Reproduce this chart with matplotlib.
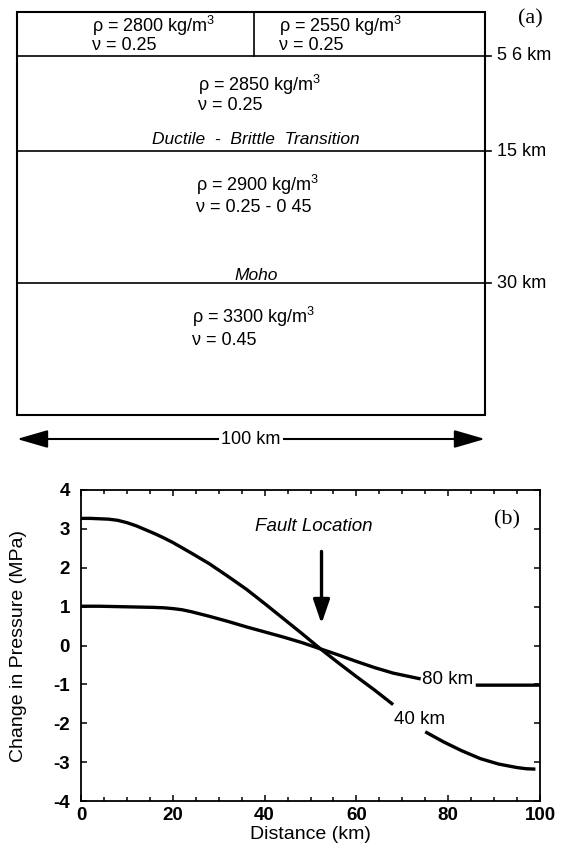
import numpy as np
import matplotlib
matplotlib.use("Agg")
import matplotlib.pyplot as plt
from matplotlib.patches import Rectangle

plt.rcParams['font.family'] = ['Liberation Sans', 'DejaVu Sans']
plt.rcParams['mathtext.fontset'] = 'custom'
plt.rcParams['mathtext.rm'] = 'Liberation Sans'
plt.rcParams['mathtext.it'] = 'Liberation Sans:italic'
plt.rcParams['axes.unicode_minus'] = False

# ---- panel (a) data: layered crust model ----
interface_labels = ["5 6 km", "15 km", "30 km"]
interface_names = ["", "Ductile  -  Brittle  Transition", "Moho"]
density_text = ["\u03c1 = 2800 kg/m$^3$", "\u03c1 = 2550 kg/m$^3$", "\u03c1 = 2850 kg/m$^3$",
                "\u03c1 = 2900 kg/m$^3$", "\u03c1 = 3300 kg/m$^3$"]
poisson_text = ["\u03bd = 0.25", "\u03bd = 0.25", "\u03bd = 0.25",
                "\u03bd = 0.25 - 0 45", "\u03bd = 0.45"]
model_width_label = "100 km"

# ---- panel (b) data: pressure change profiles ----
dist_40 = [0, 2, 4, 6, 8, 10, 12, 14, 16, 18, 20, 24, 28, 32, 36, 40, 44, 48, 52, 56, 60, 64, 68,
           np.nan, 75, 79, 83, 87, 91, 95, 97, 99]
dp_40 = [3.27, 3.27, 3.26, 3.25, 3.22, 3.16, 3.08, 2.98, 2.88, 2.77, 2.65, 2.38, 2.10, 1.78,
         1.45, 1.08, 0.70, 0.32, -0.07, -0.44, -0.80, -1.15, -1.52, np.nan,
         -2.22, -2.48, -2.71, -2.91, -3.05, -3.14, -3.17, -3.18]
dist_80 = [0, 4, 8, 12, 16, 18, 20, 22, 24, 26, 28, 32, 36, 40, 44, 48, 52, 56, 60, 64, 68, 72, 74,
           np.nan, 86, 90, 95, 100]
dp_80 = [1.01, 1.01, 1.00, 0.99, 0.98, 0.97, 0.95, 0.92, 0.87, 0.81, 0.75, 0.62, 0.48, 0.35,
         0.22, 0.08, -0.08, -0.24, -0.41, -0.57, -0.71, -0.81, -0.86, np.nan,
         -1.02, -1.02, -1.02, -1.02]
fault_x = 52.4

W, H = 561, 850
fig = plt.figure(figsize=(W / 100, H / 100), dpi=100)

# panel (a): schematic, y in pixel-like units from box top
box_top, box_bot = 12, 415
box_h = box_bot - box_top
interface_y = [44, 139, 271]
ax_a = fig.add_axes([17 / W, 1 - box_bot / H, 468 / W, box_h / H])
ax_a.set_xlim(0, 100)
ax_a.set_ylim(box_h, 0)
ax_a.axis('off')

ax_a.add_patch(Rectangle((0, 0), 100, box_h, fill=False, lw=1.5, ec='k', clip_on=False))
for y, lab in zip(interface_y, interface_labels):
    ax_a.plot([0, 101.2], [y, y], color='k', lw=1.2, clip_on=False)
    ax_a.text(102.5, y, lab, fontsize=13, ha='left', va='center')
ax_a.plot([50.7, 50.7], [0, interface_y[0]], color='k', lw=1.2)

name_y = [None, 128, 263]
for ny, nm in zip(name_y, interface_names):
    if nm:
        ax_a.text(51, ny, nm, fontsize=12.5, style='italic', ha='center', va='center')

text_x = [16, 56, 38.6, 38.2, 37.5]
rho_y = [14, 14, 73, 173, 305]
nu_y = [34, 34, 93, 196, 328]
for tx, ry, vy, rt, vt in zip(text_x, rho_y, nu_y, density_text, poisson_text):
    ax_a.text(tx, ry, rt, fontsize=13, ha='left', va='center')
    ax_a.text(tx, vy, vt, fontsize=13, ha='left', va='center')

ax_a.text(109.8, 7, "(a)", family='Liberation Serif', fontsize=16, ha='center', va='center')

arrow_y = 427
ax_a.annotate('', xy=(0, arrow_y), xytext=(100, arrow_y), annotation_clip=False,
              arrowprops=dict(arrowstyle='<|-|>,head_length=1.9,head_width=0.55',
                              lw=1.5, color='k', shrinkA=0, shrinkB=0, mutation_scale=10))
ax_a.text(50, arrow_y, model_width_label, fontsize=13, ha='center', va='center',
          bbox=dict(fc='white', ec='none', pad=1.5))

# panel (b)
ax_b = fig.add_axes([81 / W, 1 - 801 / H, 459 / W, 311 / H])
ax_b.plot(dist_40, dp_40, color='k', lw=2.4, solid_capstyle='butt')
ax_b.plot(dist_80, dp_80, color='k', lw=2.4, solid_capstyle='butt')
ax_b.set_xlim(0, 100)
ax_b.set_ylim(-4, 4)
ax_b.set_xticks(np.arange(0, 101, 20))
ax_b.set_xticks(np.arange(0, 101, 5), minor=True)
ax_b.set_yticks(np.arange(-4, 5, 1))
ax_b.tick_params(which='both', direction='in', top=True, right=True, width=1.1)
ax_b.tick_params(which='major', length=4.5)
ax_b.tick_params(which='minor', length=3)
ax_b.tick_params(axis='x', pad=4)
ax_b.tick_params(axis='y', pad=8)
for lab in ax_b.get_xticklabels() + ax_b.get_yticklabels():
    lab.set_fontsize(13.5)
    lab.set_fontweight('bold')
for sp in ax_b.spines.values():
    sp.set_linewidth(1.3)
ax_b.set_xlabel("Distance (km)", fontsize=14, labelpad=2)
ax_b.set_ylabel("Change in Pressure (MPa)", fontsize=14)
ax_b.yaxis.set_label_coords(-0.118, 0.5)

ax_b.text(74.3, -0.88, "80 km", fontsize=13.5, ha='left', va='center')
ax_b.text(68.3, -1.9, "40 km", fontsize=13.5, ha='left', va='center')
ax_b.text(50.6, 3.05, "Fault Location", fontsize=13.5, style='italic', ha='center', va='center')
ax_b.annotate('', xy=(fault_x, 0.56), xytext=(fault_x, 2.42),
              arrowprops=dict(arrowstyle='-|>,head_length=1.45,head_width=0.5',
                              lw=2.4, color='k', shrinkA=0, shrinkB=0, mutation_scale=10))
ax_b.text(92.8, 3.23, "(b)", family='Liberation Serif', fontsize=16, ha='center', va='center')

fig.savefig("out.png", dpi=100)
